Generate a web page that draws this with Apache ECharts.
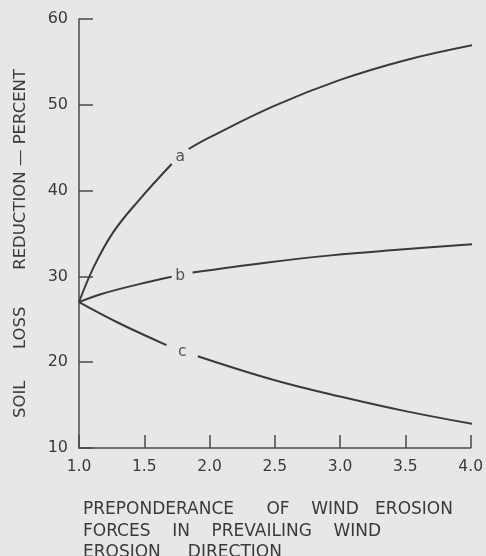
<!DOCTYPE html>
<html>
<head>
<meta charset="utf-8">
<script src="https://cdn.jsdelivr.net/npm/echarts@6/dist/echarts.min.js"></script>
<style>
html,body{margin:0;padding:0;background:#e7e7e5;}
#chart{width:486px;height:556px;}
</style>
</head>
<body>
<div id="chart"></div>
<script>
// Curve a (gap where its label sits)
var aX = [1.0, 1.11, 1.26, 1.46, 1.71, null, 1.84, 2.0, 2.5, 3.0, 3.5, 4.03];
var aY = [27.0, 31.0, 35.1, 38.9, 43.1, null, 44.85, 46.2, 49.9, 52.9, 55.2, 57.0];
// Curve b
var bX = [1.0, 1.16, 1.46, 1.71, null, 1.87, 2.43, 2.93, 3.44, 4.06];
var bY = [27.0, 27.9, 29.1, 29.95, null, 30.45, 31.6, 32.45, 33.1, 33.8];
// Curve c
var cX = [1.0, 1.3, 1.67, null, 1.91, 2.5, 3.0, 3.5, 4.09];
var cY = [27.0, 24.6, 22.0, null, 20.7, 17.9, 16.0, 14.3, 12.6];
// Curve labels
var labelNames = ['a', 'b', 'c'];
var labelX = [1.775, 1.775, 1.79];
var labelY = [43.9, 30.0, 21.2];

var xTicks = [1.0, 1.5, 2.0, 2.5, 3.0, 3.5, 4.0];
var yTicks = [10, 20, 30, 40, 50, 60];

var yTitle = 'SOIL      LOSS       REDUCTION — PERCENT';
var xTitle = 'PREPONDERANCE      OF    WIND   EROSION\nFORCES    IN    PREVAILING    WIND\nEROSION     DIRECTION';

function pairs(xs, ys) {
  return xs.map(function (x, i) { return x === null ? '-' : [x, ys[i]]; });
}

var ink = '#3a3a3a';
var font = 'DejaVu Sans';

var chart = echarts.init(document.getElementById('chart'));
var lineStyle = { color: ink, width: 2 };
function curve(name, xs, ys) {
  return { type: 'line', name: name, data: pairs(xs, ys), smooth: 0.4,
    showSymbol: false, symbol: 'none', clip: false, lineStyle: lineStyle, connectNulls: false };
}
var option = {
  backgroundColor: '#e7e7e5',
  animation: false,
  title: {
    text: xTitle,
    left: 78,
    top: 494,
    textStyle: { fontFamily: font, fontSize: 17, fontWeight: 'normal', color: ink, lineHeight: 21.5 }
  },
  graphic: [{
    type: 'text',
    x: 21,
    y: 243.5,
    rotation: Math.PI / 2,
    style: { text: yTitle, fontFamily: font, fontSize: 16.5, fill: ink, align: 'center', verticalAlign: 'middle' }
  }],
  grid: { left: 79, right: 12, top: 19, bottom: 108, containLabel: false },
  xAxis: {
    type: 'value',
    min: xTicks[0],
    max: xTicks[xTicks.length - 1],
    interval: 0.5,
    axisLine: { show: true, lineStyle: { color: '#4a4a4a', width: 1.5 } },
    axisTick: { show: true, inside: true, length: 13, lineStyle: { color: '#4a4a4a', width: 1.5 } },
    splitLine: { show: false },
    axisLabel: {
      margin: 11,
      fontFamily: font, fontSize: 15.5, color: ink,
      formatter: function (v) { return v.toFixed(1); }
    }
  },
  yAxis: {
    type: 'value',
    min: yTicks[0],
    max: yTicks[yTicks.length - 1],
    interval: 10,
    axisLine: { show: true, lineStyle: { color: '#4a4a4a', width: 1.5 } },
    axisTick: { show: true, inside: true, length: 14, lineStyle: { color: '#4a4a4a', width: 1.5 } },
    splitLine: { show: false },
    axisLabel: { margin: 11, fontFamily: font, fontSize: 16, color: ink }
  },
  series: [
    curve('a', aX, aY),
    curve('b', bX, bY),
    curve('c', cX, cY),
    {
      type: 'scatter',
      symbolSize: 0,
      data: labelNames.map(function (n, i) { return { name: n, value: [labelX[i], labelY[i]] }; }),
      label: {
        show: true, position: 'inside',
        formatter: function (p) { return p.name; },
        fontFamily: font, fontSize: 15.5, color: '#2e2e2e'
      }
    }
  ]
};
chart.setOption(option);
</script>
</body>
</html>
